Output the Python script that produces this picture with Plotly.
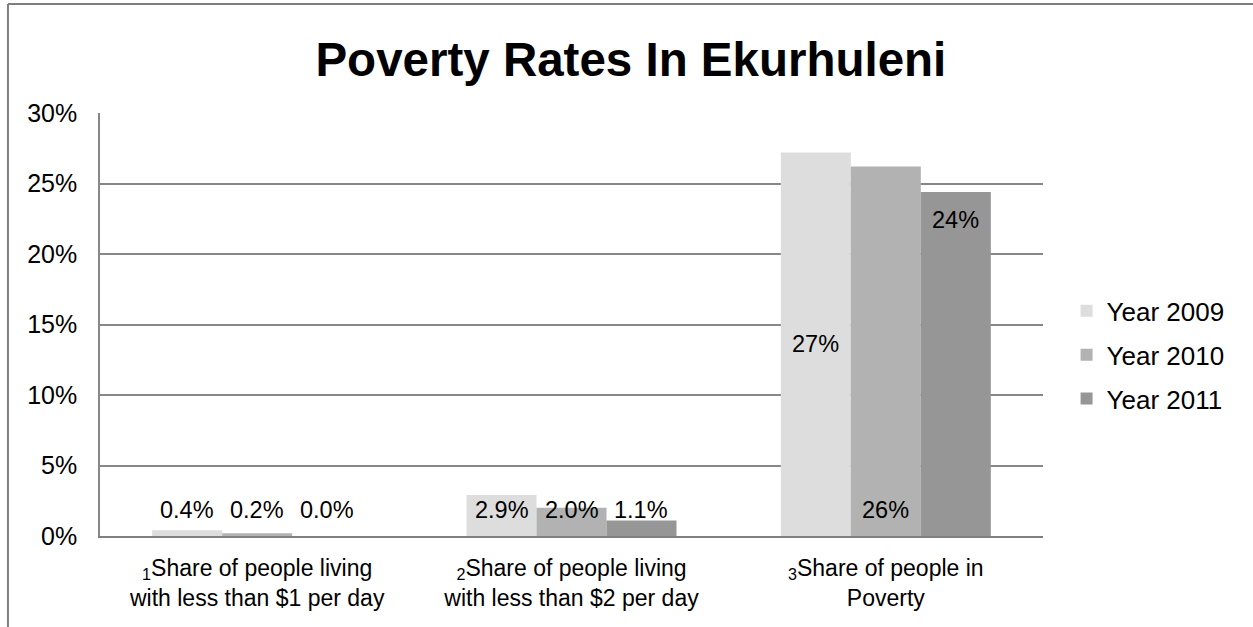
import plotly.graph_objects as go

# Poverty indicators for Ekurhuleni, shares of the population
categories = [
    "<sub>1</sub>Share of people living<br>with less than $1 per day",
    "<sub>2</sub>Share of people living<br>with less than $2 per day",
    "<sub>3</sub>Share of people in<br>Poverty",
]
years = ["Year 2009", "Year 2010", "Year 2011"]
share_2009 = [0.004, 0.029, 0.272]
share_2010 = [0.002, 0.020, 0.262]
share_2011 = [0.000, 0.011, 0.244]
y_ticks = [0.0, 0.05, 0.10, 0.15, 0.20, 0.25, 0.30]

series = [share_2009, share_2010, share_2011]
colors = ["#dddddd", "#b2b2b2", "#969696"]

# data-label styling: number format per category, placement per bar
label_formats = ["{:.1%}", "{:.1%}", "{:.0%}"]
placements = [
    ["base", "base", "center"],   # Year 2009
    ["base", "base", "base"],     # Year 2010
    ["base", "base", "end"],      # Year 2011
]

FONT = "Liberation Sans, Arial, sans-serif"
BARGAP = 0.332
x_pos = list(range(len(categories)))

fig = go.Figure()
for name, vals, col in zip(years, series, colors):
    fig.add_trace(go.Bar(
        x=x_pos, y=vals, name=name, legendgroup=name,
        marker=dict(color=col, line=dict(width=0)),
        hoverinfo="skip",
    ))

bar_w = (1 - BARGAP) / len(years)
annotations = []
for j, (vals, place) in enumerate(zip(series, placements)):
    for i, v in enumerate(vals):
        x = x_pos[i] + (j - (len(years) - 1) / 2) * bar_w
        txt = label_formats[i].format(v)
        if place[i] == "center":
            y, shift = v / 2, 0
        elif place[i] == "end":
            y, shift = v, -28
        else:
            y, shift = 0, 26
        annotations.append(dict(
            x=x, y=y, xref="x", yref="y", text=txt, showarrow=False,
            yshift=shift, font=dict(size=23.5, color="#000000", family=FONT),
        ))

fig.update_layout(
    width=1253, height=627,
    margin=dict(l=100, r=210, t=113, b=91),
    paper_bgcolor="white", plot_bgcolor="white",
    font=dict(family=FONT, size=23, color="#000000"),
    title=dict(
        text="<b>Poverty Rates In Ekurhuleni</b>",
        x=0.5035, xanchor="center", y=0.905, yanchor="middle",
        font=dict(size=47.5, family=FONT, color="#000000"),
    ),
    barmode="group", bargap=BARGAP, bargroupgap=0,
    showlegend=True,
    legend=dict(
        x=1.025, xanchor="left", y=0.428, yanchor="middle",
        font=dict(size=26, family=FONT, color="#000000"),
        tracegroupgap=7, bgcolor="rgba(0,0,0,0)",
        itemclick=False, itemdoubleclick=False,
    ),
    annotations=annotations,
    shapes=[
        dict(type="line", xref="paper", yref="paper",
             x0=-0.0976, x1=-0.0976, y0=1.2577, y1=-0.3,
             line=dict(color="#7f7f7f", width=2)),
        dict(type="line", xref="paper", yref="paper",
             x0=-0.0976, x1=1.3, y0=1.2577, y1=1.2577,
             line=dict(color="#7f7f7f", width=2)),
    ],
)

fig.update_xaxes(
    range=[-0.5, len(categories) - 0.5],
    tickmode="array", tickvals=x_pos, ticktext=categories,
    showline=True, linecolor="#7f7f7f", linewidth=2,
    showgrid=False, zeroline=False, ticks="",
    tickfont=dict(size=23, family=FONT, color="#000000"),
    ticklabelstandoff=10,
)
fig.update_yaxes(
    range=[0, 0.30], tickvals=y_ticks, tickformat=".0%",
    showline=True, linecolor="#878787", linewidth=1.5,
    showgrid=True, gridcolor="#878787", gridwidth=1.5,
    zeroline=False, ticks="",
    tickfont=dict(size=25, family=FONT, color="#000000"),
    ticklabelstandoff=16,
)

fig.write_html("out.html")
